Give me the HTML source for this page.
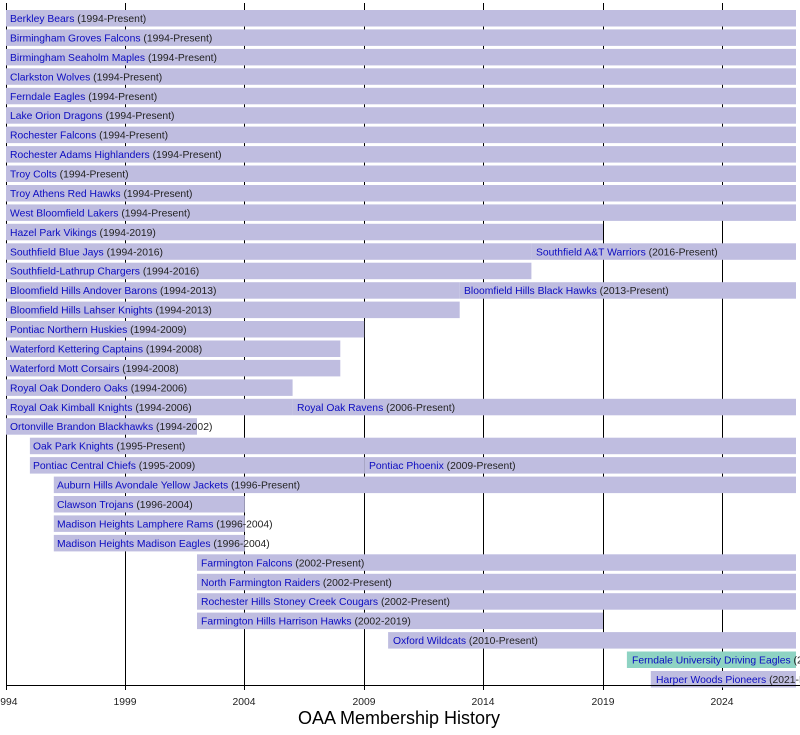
<!DOCTYPE html>
<html><head><meta charset="utf-8"><style>
html,body{margin:0;padding:0;background:#fff;width:800px;height:735px;overflow:hidden}
svg{display:block}
text{font-family:"Liberation Sans",Arial,sans-serif;font-size:10.35px}
.n{fill:#0b0bc0}.p{fill:#222}
rect.b{fill:#bfbde0}rect.t{fill:#8ed3c3}
</style></head><body>
<svg width="800" height="735" xmlns="http://www.w3.org/2000/svg">
<g stroke="#000" stroke-width="1">
<line x1="6.5" y1="3" x2="6.5" y2="690"/>
<line x1="125.5" y1="3" x2="125.5" y2="690"/>
<line x1="244.5" y1="3" x2="244.5" y2="690"/>
<line x1="364.5" y1="3" x2="364.5" y2="690"/>
<line x1="483.5" y1="3" x2="483.5" y2="690"/>
<line x1="603.5" y1="3" x2="603.5" y2="690"/>
<line x1="722.5" y1="3" x2="722.5" y2="690"/>
</g>
<g>
<rect class="b" x="6" y="10" width="790" height="16.5"/>
<rect class="b" x="6" y="29.4" width="790" height="16.5"/>
<rect class="b" x="6" y="48.9" width="790" height="16.5"/>
<rect class="b" x="6" y="68.3" width="790" height="16.5"/>
<rect class="b" x="6" y="87.8" width="790" height="16.5"/>
<rect class="b" x="6" y="107.2" width="790" height="16.5"/>
<rect class="b" x="6" y="126.6" width="790" height="16.5"/>
<rect class="b" x="6" y="146.1" width="790" height="16.5"/>
<rect class="b" x="6" y="165.5" width="790" height="16.5"/>
<rect class="b" x="6" y="185" width="790" height="16.5"/>
<rect class="b" x="6" y="204.4" width="790" height="16.5"/>
<rect class="b" x="6" y="223.8" width="597" height="16.5"/>
<rect class="b" x="6" y="243.3" width="525.4" height="16.5"/>
<rect class="b" x="531.4" y="243.3" width="264.6" height="16.5"/>
<rect class="b" x="6" y="262.7" width="525.4" height="16.5"/>
<rect class="b" x="6" y="282.2" width="453.7" height="16.5"/>
<rect class="b" x="459.7" y="282.2" width="336.3" height="16.5"/>
<rect class="b" x="6" y="301.6" width="453.7" height="16.5"/>
<rect class="b" x="6" y="321" width="358.2" height="16.5"/>
<rect class="b" x="6" y="340.5" width="334.3" height="16.5"/>
<rect class="b" x="6" y="359.9" width="334.3" height="16.5"/>
<rect class="b" x="6" y="379.4" width="286.6" height="16.5"/>
<rect class="b" x="6" y="398.8" width="286.6" height="16.5"/>
<rect class="b" x="292.6" y="398.8" width="503.4" height="16.5"/>
<rect class="b" x="6" y="418.2" width="191" height="16.5"/>
<rect class="b" x="29.9" y="437.7" width="766.1" height="16.5"/>
<rect class="b" x="29.9" y="457.1" width="334.3" height="16.5"/>
<rect class="b" x="364.2" y="457.1" width="431.8" height="16.5"/>
<rect class="b" x="53.8" y="476.6" width="742.2" height="16.5"/>
<rect class="b" x="53.8" y="496" width="191" height="16.5"/>
<rect class="b" x="53.8" y="515.4" width="191" height="16.5"/>
<rect class="b" x="53.8" y="534.9" width="191" height="16.5"/>
<rect class="b" x="197" y="554.3" width="599" height="16.5"/>
<rect class="b" x="197" y="573.8" width="599" height="16.5"/>
<rect class="b" x="197" y="593.2" width="599" height="16.5"/>
<rect class="b" x="197" y="612.6" width="406" height="16.5"/>
<rect class="b" x="388.1" y="632.1" width="407.9" height="16.5"/>
<rect class="t" x="626.9" y="651.5" width="169.1" height="16.5"/>
<rect class="b" x="650.8" y="671" width="145.2" height="16.5"/>
</g>
<line x1="6" y1="685.5" x2="800" y2="685.5" stroke="#000"/>
<g>
<text x="10" y="22"><tspan class="n">Berkley Bears</tspan><tspan class="p"> (1994-Present)</tspan></text>
<text x="10" y="41.4"><tspan class="n">Birmingham Groves Falcons</tspan><tspan class="p"> (1994-Present)</tspan></text>
<text x="10" y="60.9"><tspan class="n">Birmingham Seaholm Maples</tspan><tspan class="p"> (1994-Present)</tspan></text>
<text x="10" y="80.3"><tspan class="n">Clarkston Wolves</tspan><tspan class="p"> (1994-Present)</tspan></text>
<text x="10" y="99.8"><tspan class="n">Ferndale Eagles</tspan><tspan class="p"> (1994-Present)</tspan></text>
<text x="10" y="119.2"><tspan class="n">Lake Orion Dragons</tspan><tspan class="p"> (1994-Present)</tspan></text>
<text x="10" y="138.6"><tspan class="n">Rochester Falcons</tspan><tspan class="p"> (1994-Present)</tspan></text>
<text x="10" y="158.1"><tspan class="n">Rochester Adams Highlanders</tspan><tspan class="p"> (1994-Present)</tspan></text>
<text x="10" y="177.5"><tspan class="n">Troy Colts</tspan><tspan class="p"> (1994-Present)</tspan></text>
<text x="10" y="197"><tspan class="n">Troy Athens Red Hawks</tspan><tspan class="p"> (1994-Present)</tspan></text>
<text x="10" y="216.4"><tspan class="n">West Bloomfield Lakers</tspan><tspan class="p"> (1994-Present)</tspan></text>
<text x="10" y="235.8"><tspan class="n">Hazel Park Vikings</tspan><tspan class="p"> (1994-2019)</tspan></text>
<text x="10" y="255.3"><tspan class="n">Southfield Blue Jays</tspan><tspan class="p"> (1994-2016)</tspan></text>
<text x="536" y="255.3"><tspan class="n">Southfield A&amp;T Warriors</tspan><tspan class="p"> (2016-Present)</tspan></text>
<text x="10" y="274.7"><tspan class="n">Southfield-Lathrup Chargers</tspan><tspan class="p"> (1994-2016)</tspan></text>
<text x="10" y="294.2"><tspan class="n">Bloomfield Hills Andover Barons</tspan><tspan class="p"> (1994-2013)</tspan></text>
<text x="464" y="294.2"><tspan class="n">Bloomfield Hills Black Hawks</tspan><tspan class="p"> (2013-Present)</tspan></text>
<text x="10" y="313.6"><tspan class="n">Bloomfield Hills Lahser Knights</tspan><tspan class="p"> (1994-2013)</tspan></text>
<text x="10" y="333"><tspan class="n">Pontiac Northern Huskies</tspan><tspan class="p"> (1994-2009)</tspan></text>
<text x="10" y="352.5"><tspan class="n">Waterford Kettering Captains</tspan><tspan class="p"> (1994-2008)</tspan></text>
<text x="10" y="371.9"><tspan class="n">Waterford Mott Corsairs</tspan><tspan class="p"> (1994-2008)</tspan></text>
<text x="10" y="391.4"><tspan class="n">Royal Oak Dondero Oaks</tspan><tspan class="p"> (1994-2006)</tspan></text>
<text x="10" y="410.8"><tspan class="n">Royal Oak Kimball Knights</tspan><tspan class="p"> (1994-2006)</tspan></text>
<text x="297" y="410.8"><tspan class="n">Royal Oak Ravens</tspan><tspan class="p"> (2006-Present)</tspan></text>
<text x="10" y="430.2"><tspan class="n">Ortonville Brandon Blackhawks</tspan><tspan class="p"> (1994-2002)</tspan></text>
<text x="33" y="449.7"><tspan class="n">Oak Park Knights</tspan><tspan class="p"> (1995-Present)</tspan></text>
<text x="33" y="469.1"><tspan class="n">Pontiac Central Chiefs</tspan><tspan class="p"> (1995-2009)</tspan></text>
<text x="369" y="469.1"><tspan class="n">Pontiac Phoenix</tspan><tspan class="p"> (2009-Present)</tspan></text>
<text x="57" y="488.6"><tspan class="n">Auburn Hills Avondale Yellow Jackets</tspan><tspan class="p"> (1996-Present)</tspan></text>
<text x="57" y="508"><tspan class="n">Clawson Trojans</tspan><tspan class="p"> (1996-2004)</tspan></text>
<text x="57" y="527.4"><tspan class="n">Madison Heights Lamphere Rams</tspan><tspan class="p"> (1996-2004)</tspan></text>
<text x="57" y="546.9"><tspan class="n">Madison Heights Madison Eagles</tspan><tspan class="p"> (1996-2004)</tspan></text>
<text x="201" y="566.3"><tspan class="n">Farmington Falcons</tspan><tspan class="p"> (2002-Present)</tspan></text>
<text x="201" y="585.8"><tspan class="n">North Farmington Raiders</tspan><tspan class="p"> (2002-Present)</tspan></text>
<text x="201" y="605.2"><tspan class="n">Rochester Hills Stoney Creek Cougars</tspan><tspan class="p"> (2002-Present)</tspan></text>
<text x="201" y="624.6"><tspan class="n">Farmington Hills Harrison Hawks</tspan><tspan class="p"> (2002-2019)</tspan></text>
<text x="393" y="644.1"><tspan class="n">Oxford Wildcats</tspan><tspan class="p"> (2010-Present)</tspan></text>
<text x="632" y="663.5"><tspan class="n">Ferndale University Driving Eagles</tspan><tspan class="p"> (2020-Present)</tspan></text>
<text x="656" y="683"><tspan class="n">Harper Woods Pioneers</tspan><tspan class="p"> (2021-Present)</tspan></text>
</g>
<g fill="#222" text-anchor="middle">
<text x="6" y="705">1994</text>
<text x="125" y="705">1999</text>
<text x="244" y="705">2004</text>
<text x="364" y="705">2009</text>
<text x="483" y="705">2014</text>
<text x="603" y="705">2019</text>
<text x="722" y="705">2024</text>
</g>
<text x="399" y="724" text-anchor="middle" style="font-size:18px" fill="#000">OAA Membership History</text>
</svg>
</body></html>
